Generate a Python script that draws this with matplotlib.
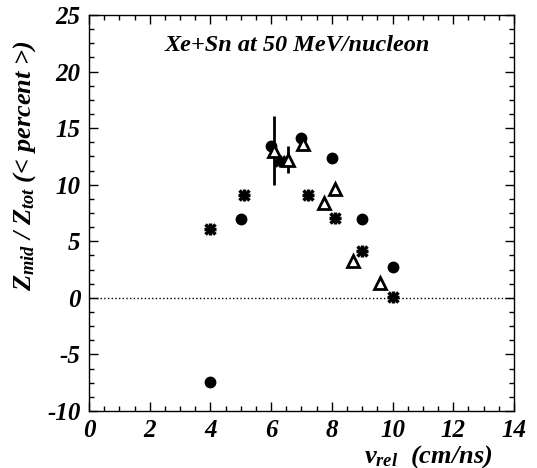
import numpy as np
import matplotlib
matplotlib.use('Agg')
import matplotlib.pyplot as plt
from matplotlib.ticker import MultipleLocator

# filled circles
v_circ = [4, 5, 6, 7, 8, 9, 10]
z_circ = [-7.4, 7.0, 13.4, 14.1, 12.4, 7.0, 2.7]
# asterisks
v_star = [4.0, 5.1, 6.3, 7.2, 8.1, 9.0, 10.0]
z_star = [6.1, 9.1, 12.1, 9.1, 7.1, 4.1, 0.1]
# open triangles
v_tri = [6.1, 6.55, 7.05, 7.75, 8.1, 8.7, 9.6]
z_tri = [13.0, 12.2, 13.6, 8.4, 9.6, 3.3, 1.3]
e_tri = [3.05, 1.2, 0, 0, 0, 0, 0]

plt.rcParams['font.family'] = 'Liberation Serif'
plt.rcParams['font.weight'] = 'bold'
plt.rcParams['font.style'] = 'italic'
plt.rcParams['axes.labelweight'] = 'bold'
plt.rcParams['axes.unicode_minus'] = False
plt.rcParams['mathtext.fontset'] = 'custom'
plt.rcParams['mathtext.it'] = 'Liberation Serif:bold:italic'
plt.rcParams['mathtext.rm'] = 'Liberation Serif:bold:italic'
plt.rcParams['mathtext.bf'] = 'Liberation Serif:bold:italic'

fig = plt.figure(figsize=(5.37, 4.68), dpi=100)
ax = fig.add_axes([0.1657, 0.1218, 0.7913, 0.8462])

ax.axhline(0, color='k', lw=1, ls=':')
ax.errorbar(v_tri, z_tri, yerr=e_tri, fmt='none', ecolor='k', elinewidth=2, capsize=0)
ax.plot(v_circ, z_circ, 'o', color='k', ms=7.5)
ax.plot(v_star, z_star, '+', color='k', ms=8, mew=2.5)
ax.plot(v_star, z_star, 'x', color='k', ms=7, mew=2.5)
ax.plot(v_tri, z_tri, '^', mfc='white', mec='k', ms=8, mew=2)

ax.set_xlim(0, 14)
ax.set_ylim(-10, 25)
ax.xaxis.set_major_locator(MultipleLocator(2))
ax.xaxis.set_minor_locator(MultipleLocator(0.5))
ax.yaxis.set_major_locator(MultipleLocator(5))
ax.yaxis.set_minor_locator(MultipleLocator(1.25))
ax.tick_params(which='both', direction='in', top=True, right=True, width=1)
ax.tick_params(which='major', length=6.5)
ax.tick_params(which='minor', length=3.5)
ax.tick_params(axis='x', which='major', pad=6, labelsize=18)
ax.tick_params(axis='y', which='major', pad=6, labelsize=18)
for s in ax.spines.values():
    s.set_linewidth(1)

ax.text(0.49, 0.924, 'Xe+Sn at 50 MeV/nucleon', transform=ax.transAxes,
        ha='center', va='center', fontsize=17.5)

ax.set_xlabel(r'$v_{rel}$  (cm/ns)', fontsize=19, loc='right')
ax.xaxis.set_label_coords(0.95, -0.08)
ax.set_ylabel(r'$Z_{mid}$ / $Z_{tot}$ (< percent >)', fontsize=19)
ax.yaxis.set_label_coords(-0.12, 0.62)

fig.savefig('out.png', dpi=100)
